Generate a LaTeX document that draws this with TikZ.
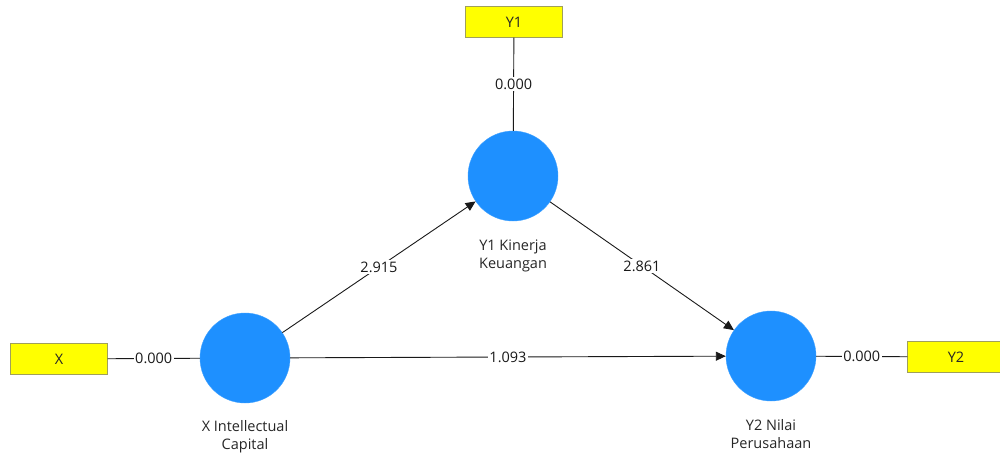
\documentclass[tikz,border=0pt]{standalone}
\usepackage{fontspec}
\setmainfont{Open Sans}
\usetikzlibrary{arrows.meta}
\definecolor{lvblue}{RGB}{30,144,255}
\definecolor{indyellow}{RGB}{255,255,0}
\definecolor{indframe}{RGB}{160,160,90}
\begin{document}
\begin{tikzpicture}[x=1pt,y=-1pt,
  font=\fontsize{14.5}{18}\selectfont,text=black!85,
  latent/.style={circle,fill=lvblue,draw=lvblue!85!white,minimum size=90pt,inner sep=0pt},
  indicator/.style={rectangle,fill=indyellow,draw=indframe,minimum width=97pt,minimum height=31pt,inner sep=0pt},
  coef/.style={fill=white,inner sep=1.5pt},
  relation/.style={-{Triangle[length=10pt,width=9pt]},black!90,line width=0.9pt},
  loading/.style={black!90,line width=0.9pt}]
\useasboundingbox (0,0) rectangle (1000,452);
% indicators
\node[indicator] (x) at (59,359) {X};
\node[indicator] (y1) at (514,22) {Y1};
\node[indicator] (y2) at (956,357) {Y2};
% latent variables
\node[latent] (ic) at (245,358) {};
\node[latent] (kk) at (513,176) {};
\node[latent] (np) at (771,356) {};
\node[align=center] (iclabel) at (245,437) {X Intellectual\\Capital};
\node[align=center] (kklabel) at (513,256) {Y1 Kinerja\\Keuangan};
\node[align=center] (nplabel) at (771,434) {Y2 Nilai\\Perusahaan};
% outer model
\draw[loading] (x) -- node[coef] {0.000} (ic);
\draw[loading] (y1) -- node[coef] {0.000} (kk);
\draw[loading] (np) -- node[coef] {0.000} (y2);
% inner model
\draw[relation] (ic) -- node[coef] {2.915} (kk);
\draw[relation] (kk) -- node[coef] {2.861} (np);
\draw[relation] (ic) -- node[coef] {1.093} (np);
\end{tikzpicture}
\end{document}
